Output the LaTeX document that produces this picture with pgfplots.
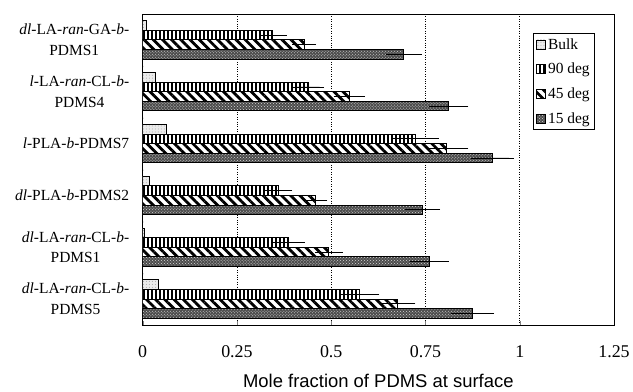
\documentclass[border=0pt]{standalone}
\usepackage{fontspec}
\setmainfont{Liberation Serif}
\newfontfamily\arialfont{Liberation Sans}
\usepackage{pgfplots}
\pgfplotsset{compat=1.18}
\usetikzlibrary{patterns,patterns.meta}

\pgfplotstableread{
y  bulk   v90   e90   v45   e45   v15   e15
0  0.011  0.345 0.025 0.428 0.020 0.693 0.035
1  0.035  0.439 0.030 0.548 0.030 0.812 0.040
2  0.062  0.723 0.050 0.807 0.045 0.927 0.045
3  0.018  0.360 0.025 0.458 0.020 0.742 0.035
4  0.005  0.388 0.030 0.494 0.025 0.760 0.040
5  0.042  0.576 0.040 0.676 0.035 0.875 0.045
}\datatable

\begin{document}
\begin{tikzpicture}
\useasboundingbox (0,0) rectangle (633bp,392bp);
\begin{axis}[
  at={(142.7bp,67bp)}, anchor=south west,
  scale only axis, width=471.3bp, height=311bp,
  xbar, bar width=0.185,
  xmin=0, xmax=1.25, ymin=-0.5, ymax=5.5,
  y dir=reverse,
  xtick={0,0.25,0.5,0.75,1,1.25},
  xticklabels={0,0.25,0.5,0.75,1,1.25},
  xtick pos=left, xtick align=inside, major tick length=4bp,
  ytick={0,1,2,3,4,5},
  yticklabels={
    {\textit{dl}-LA-\textit{ran}-GA-\textit{b}-\\PDMS1},
    {\textit{l}-LA-\textit{ran}-CL-\textit{b}-\\PDMS4},
    {\textit{l}-PLA-\textit{b}-PDMS7},
    {\textit{dl}-PLA-\textit{b}-PDMS2},
    {\textit{dl}-LA-\textit{ran}-CL-\textit{b}-\\PDMS1},
    {\textit{dl}-LA-\textit{ran}-CL-\textit{b}-\\PDMS5}},
  y tick style={draw=none},
  yticklabel style={font=\fontsize{15.5}{21}\selectfont, align=center, xshift=-6bp},
  xticklabel style={font=\fontsize{18}{20}\selectfont, yshift=-17bp},
  xmajorgrids, grid style={black, dotted, line width=0.8pt},
  axis line style={line width=1pt},
  xlabel={Mole fraction of PDMS at surface},
  xlabel style={font=\arialfont\fontsize{18.5}{20}\selectfont, yshift=-10bp},
  legend style={at={(0.828,0.939)}, anchor=north west, draw=black, line width=0.8pt,
    inner sep=3pt, row sep=8.5pt, font=\fontsize{15.5}{17}\selectfont, cells={anchor=west}},
  legend image code/.code={\draw[#1, line width=0.8pt] (0bp,-4.5bp) rectangle (9bp,4.5bp);},
  error bars/error bar style={line width=0.8pt, black},
  error bars/error mark options={line width=0.8pt, black, mark size=4.5bp},
]
\addplot[draw=black, line width=1pt, fill=black!8, bar shift=-0.2775,
  postaction={pattern=dots, pattern color=black!35}]
  table[x=bulk, y=y] {\datatable};
\addlegendentry{Bulk}
\addplot[draw=black, line width=1pt, fill=white, bar shift=-0.0925,
  postaction={pattern={Lines[angle=90, distance=4bp, line width=1.5bp]}},
  error bars/.cd, x dir=both, x explicit]
  table[x=v90, y=y, x error=e90] {\datatable};
\addlegendentry{90 deg}
\addplot[draw=black, line width=1pt, fill=white, bar shift=0.0925,
  postaction={pattern={Lines[angle=-45, distance=6.5bp, line width=2.8bp]}},
  error bars/.cd, x dir=both, x explicit]
  table[x=v45, y=y, x error=e45] {\datatable};
\addlegendentry{45 deg}
\addplot[draw=black, line width=1pt, fill=black!70, bar shift=0.2775,
  postaction={pattern=crosshatch dots, pattern color=white!85!black},
  error bars/.cd, x dir=both, x explicit]
  table[x=v15, y=y, x error=e15] {\datatable};
\addlegendentry{15 deg}
\pgfplotsinvokeforeach{0.5,1.5,2.5,3.5,4.5}{
  \draw[line width=1pt] (axis cs:0,#1) -- ++(-4bp,0);
}
\end{axis}
\end{tikzpicture}
\end{document}
